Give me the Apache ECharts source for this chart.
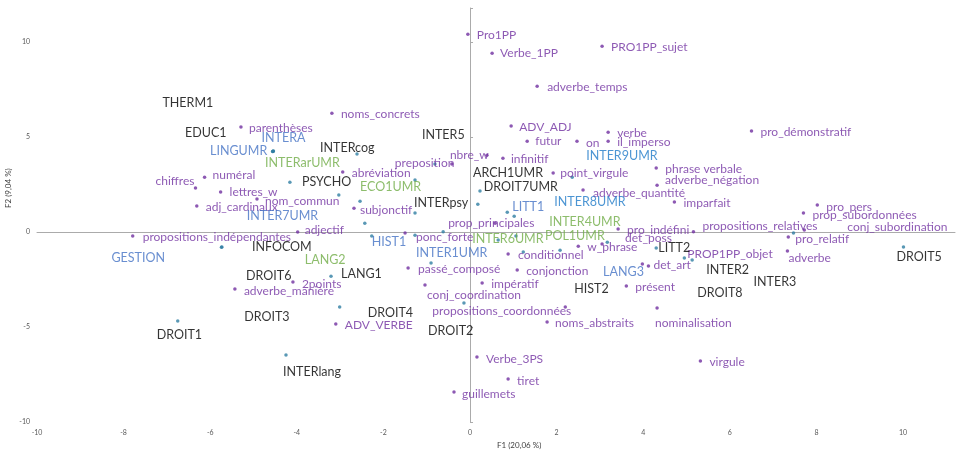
<!DOCTYPE html>
<html>
<head>
<meta charset="utf-8">
<script src="https://cdn.jsdelivr.net/npm/echarts@6/dist/echarts.min.js"></script>
<style>html,body{margin:0;padding:0;background:#fff}#c{width:960px;height:450px}</style>
</head>
<body>
<div id="c"></div>
<script>
// ---- Data: active variables (purple) ----
const varNames = ['Pro1PP','Verbe_1PP','PRO1PP_sujet','adverbe_temps','noms_concrets','parenthèses','ADV_ADJ','futur','on','verbe','il_imperso','pro_démonstratif','nbre_w','preposition','infinitif','point_virgule','phrase verbale','adverbe_négation','adverbe_quantité','imparfait','pro_pers','prop_subordonnées','propositions_relatives','conj_subordination','pro_relatif','adverbe','w_phrase','det_poss','pro_indéfini','conditionnel','conjonction','passé_composé','impératif','conj_coordination','propositions_coordonnées','noms_abstraits','Verbe_3PS','tiret','guillemets','ADV_VERBE','2points','adverbe_manière','propositions_indépendantes','adjectif','nom_commun','lettres_w','adj_cardinaux','numéral','chiffres','abréviation','subjonctif','prop_principales','ponc_forte','det_art','présent','nominalisation','virgule','PROP1PP_objet'];
const varX = [-0.05,0.51,3.05,1.55,-3.19,-5.29,0.95,1.32,2.47,3.19,3.19,6.50,0.39,-0.42,0.76,1.92,4.30,4.32,2.61,4.72,8.02,7.70,5.16,7.72,7.35,7.33,2.50,3.05,3.42,0.88,1.09,-1.43,0.28,-1.04,2.20,1.78,0.16,0.88,-0.37,-3.10,-4.09,-5.43,-7.79,-3.98,-4.92,-5.76,-6.31,-6.13,-6.34,-2.94,-2.68,0.58,-1.50,4.12,3.61,4.32,5.32,3.98];
const varY = [10.42,9.42,9.79,7.68,6.26,5.53,5.58,4.79,4.79,5.26,4.79,5.32,4.05,3.58,3.89,3.11,3.37,2.47,2.21,1.58,1.42,1.00,0.02,0.11,-0.26,-1.00,-0.74,-0.63,0.16,-1.16,-2.00,-1.89,-2.68,-2.79,-3.95,-4.74,-6.58,-7.74,-8.42,-4.84,-2.63,-3.00,-0.21,0.01,1.74,2.11,1.37,2.89,2.32,3.16,1.26,0.47,-0.05,-1.79,-2.84,-4.00,-6.79,-1.68];

// ---- Data: observations (teal dots) ----
const obsNames = ['LINGUMR','INTERA','THERM1','EDUC1','PSYCHO','INTERcog','ECO1UMR','INTER7UMR','INTERarUMR','INTERpsy','LANG2','HIST1','INFOCOM','GESTION','DROIT1','INTERlang','LANG1','DROIT4','DROIT6','DROIT3','INTER1UMR','INTER6UMR','DROIT2','ARCH1UMR','DROIT7UMR','LITT1','INTER4UMR','POL1UMR','INTER5','INTER9UMR','INTER8UMR','LANG3','HIST2','LITT2','INTER2','DROIT8','INTER3','DROIT5'];
const obsX = [-4.55,-4.56,-4.54,-4.55,-4.16,-2.61,-1.27,-3.03,-2.54,-1.27,-2.43,-2.27,-5.73,-5.74,-6.75,-4.25,-3.21,-3.01,-1.27,-0.62,-0.90,0.65,-0.14,0.23,0.18,0.86,1.02,1.06,-0.81,2.36,3.17,2.08,1.23,4.30,4.95,5.13,7.47,10.01];
const obsY = [4.26,4.25,4.27,4.25,2.63,4.11,2.74,1.95,1.63,1.00,0.47,-0.21,-0.79,-0.80,-4.68,-6.47,-2.32,-3.95,-0.16,0.02,-1.63,-0.42,-3.74,2.16,1.47,1.05,0.84,-0.21,3.58,2.89,-0.53,-0.95,-1.05,-0.84,-1.37,-1.47,-0.05,-0.79];
const obsGroup = ['blue','blue','black','black','black','black','green','blue','green','black','green','blue','black','blue','black','black','black','black','black','black','blue','green','black','black','black','blue','green','green','black','cyan','cyan','blue','black','black','black','black','black','black'];

// ---- Axis ticks ----
const xTicks = [-10,-8,-6,-4,-2,0,2,4,6,8,10];
const yTicks = [-10,-5,0,5,10];
const xTitle = 'F1 (20,06 %)';
const yTitle = 'F2 (9,04 %)';

// ---- Layout / style (label offsets in px from dot to label start) ----
const varLabelOffset = {
  'Pro1PP':[9,1],'Verbe_1PP':[8,0],'PRO1PP_sujet':[9,1],'adverbe_temps':[10,1],'noms_concrets':[9,1],'parenthèses':[8,1],
  'ADV_ADJ':[8,1],'futur':[8,0],'on':[9,2],'verbe':[9,1],'il_imperso':[9,1],'pro_démonstratif':[9,1],'nbre_w':[-37,0],
  'preposition':[-57,-1],'infinitif':[8,1],'point_virgule':[7,0],'phrase verbale':[9,1],'adverbe_négation':[8,-5],
  'adverbe_quantité':[10,3],'imparfait':[9,1],'pro_pers':[9,2],'prop_subordonnées':[9,2],'propositions_relatives':[9,-6],
  'conj_subordination':[43,-3],'pro_relatif':[7,2],'adverbe':[1,7],'w_phrase':[9,1],'det_poss':[23,-6],'pro_indéfini':[9,1],
  'conditionnel':[10,1],'conjonction':[9,1],'passé_composé':[10,1],'impératif':[9,1],'conj_coordination':[2,10],
  'propositions_coordonnées':[-133,4],'noms_abstraits':[8,1],'Verbe_3PS':[9,2],'tiret':[9,2],'guillemets':[8,2],
  'ADV_VERBE':[9,1],'2points':[9,2],'adverbe_manière':[9,2],'propositions_indépendantes':[10,1],'adjectif':[7,-2],
  'nom_commun':[8,2],'lettres_w':[9,0],'adj_cardinaux':[9,1],'numéral':[8,-2],'chiffres':[-40,-7],'abréviation':[9,1],
  'subjonctif':[6,2],'prop_principales':[-47,0],'ponc_forte':[11,4],'det_art':[5,-1],'présent':[9,1],'nominalisation':[-2,15],
  'virgule':[9,1],'PROP1PP_objet':[45,-10]
};
const obsLabelOffset = {
  'LINGUMR':[-63,0],'INTERA':[-11,-13],'THERM1':[-111,-48],'EDUC1':[-88,-18],'PSYCHO':[12,0],'INTERcog':[-37,-6],
  'ECO1UMR':[-55,7],'INTER7UMR':[-92,21],'INTERarUMR':[-95,-38],'INTERpsy':[-1,-10],'LANG2':[-60,37],'HIST1':[0,6],
  'INFOCOM':[30,0],'GESTION':[-110,11],'DROIT1':[-21,14],'INTERlang':[-3,17],'LANG1':[10,-2],'DROIT4':[28,6],
  'DROIT6':[-169,41],'DROIT3':[-199,85],'INTER1UMR':[-15,-10],'INTER6UMR':[-26,-1],'DROIT2':[-36,28],'ARCH1UMR':[-7,-18],
  'DROIT7UMR':[6,-17],'LITT1':[5,-5],'INTER4UMR':[35,6],'POL1UMR':[29,0],'INTER5':[-13,-29],'INTER9UMR':[14,-21],
  'INTER8UMR':[-53,-40],'LANG3':[43,22],'HIST2':[51,37],'LITT2':[2,0],'INTER2':[22,12],'DROIT8':[5,33],'INTER3':[-40,49],
  'DROIT5':[-7,10]
};
const groupColor = {black:'#000000', blue:'#4472C4', green:'#70AD47', cyan:'#1F7BC8'};
const FONT = 'Lato';

const varData = varNames.map((n,i)=>({
  value:[varX[i],varY[i]], name:n,
  label:{offset: varLabelOffset[n] || [8,0]}
}));
const obsData = obsNames.map((n,i)=>({
  value:[obsX[i],obsY[i]], name:n,
  label:{offset: obsLabelOffset[n] || [8,0], color: groupColor[obsGroup[i]]}
}));

const chart = echarts.init(document.getElementById('c'), null, {renderer:'canvas'});
const tickFmt = (list)=> (v)=> list.indexOf(Math.round(v*1000)/1000) >= 0 ? String(v) : '';
chart.setOption({
  animation:false,
  backgroundColor:'#ffffff',
  grid:{left:37, top:8, width:918, height:414, containLabel:false, outerBoundsMode:'none'},
  graphic:[
    {type:'text', left:497, top:441, style:{text:xTitle, fontSize:8, fill:'#404040', fontFamily:FONT}},
    {type:'text', x:8, y:208, rotation:Math.PI/2,
     style:{text:yTitle, fontSize:8, fill:'#404040', fontFamily:FONT, align:'left', verticalAlign:'middle'}}
  ],
  xAxis:[
    {type:'value', min:-10, max:11.2, interval:2, position:'bottom',
     axisLine:{show:false, onZero:false}, axisTick:{show:false}, splitLine:{show:false},
     axisLabel:{fontSize:7, color:'#595959', margin:7, fontFamily:FONT, formatter:tickFmt(xTicks), showMaxLabel:false}},
    {type:'value', min:-10, max:11.2, interval:2, position:'top',
     axisLine:{show:true, onZero:true, onZeroAxisIndex:0, lineStyle:{color:'#ABABAB', width:1}},
     axisTick:{show:false}, axisLabel:{show:false}, splitLine:{show:false}}
  ],
  yAxis:[
    {type:'value', min:-10, max:11.8, interval:5, position:'left',
     axisLine:{show:false, onZero:false}, axisTick:{show:false}, splitLine:{show:false},
     axisLabel:{fontSize:7, color:'#595959', margin:7, fontFamily:FONT, formatter:tickFmt(yTicks), showMaxLabel:false}},
    {type:'value', min:-10, max:11.8, interval:5, position:'right',
     axisLine:{show:true, onZero:true, onZeroAxisIndex:0, lineStyle:{color:'#ABABAB', width:1}},
     axisTick:{show:true, length:3, lineStyle:{color:'#ABABAB'}}, axisLabel:{show:false}, splitLine:{show:false}}
  ],
  series:[
    {type:'scatter', name:'variables', xAxisIndex:0, yAxisIndex:0, data:varData,
     symbol:'circle', symbolSize:3.5, itemStyle:{color:'#7030A0'},
     label:{show:true, formatter:'{b}', position:'inside', align:'left', verticalAlign:'middle',
            color:'#7030A0', fontSize:12, fontFamily:FONT},
     emphasis:{disabled:true}},
    {type:'scatter', name:'observations', xAxisIndex:0, yAxisIndex:0, data:obsData,
     symbol:'circle', symbolSize:3.5, itemStyle:{color:'#2F7EA3'},
     label:{show:true, formatter:'{b}', position:'inside', align:'left', verticalAlign:'middle',
            fontSize:12.5, fontFamily:FONT},
     emphasis:{disabled:true}}
  ]
});
</script>
</body>
</html>
